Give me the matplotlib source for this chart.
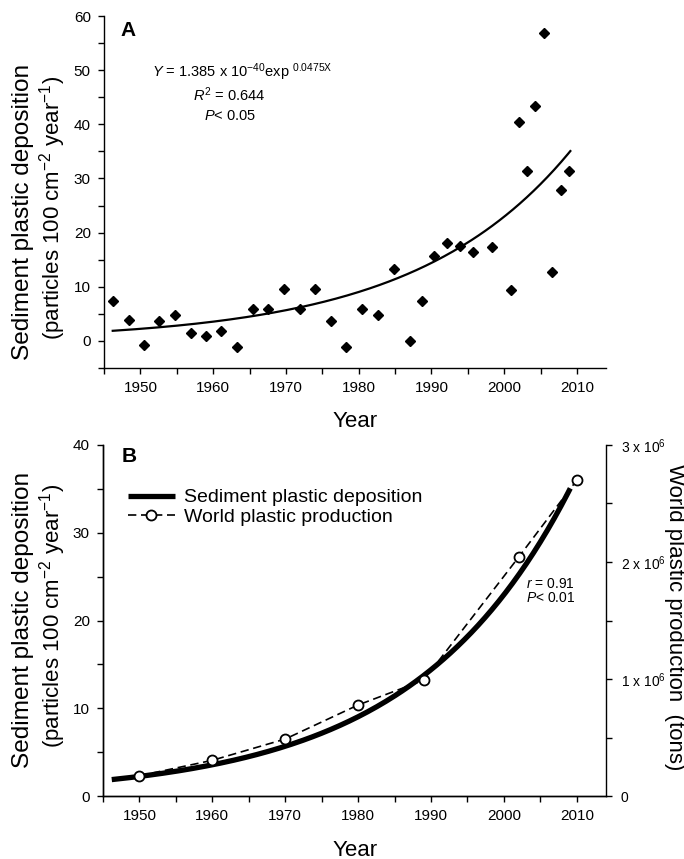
import numpy as np
import matplotlib
matplotlib.use("Agg")
import matplotlib.pyplot as plt
from matplotlib.ticker import MultipleLocator, FixedLocator, FixedFormatter

plt.rcParams['font.family'] = ['Liberation Sans', 'DejaVu Sans']
plt.rcParams['mathtext.fontset'] = 'custom'
plt.rcParams['mathtext.rm'] = 'Liberation Sans'
plt.rcParams['mathtext.it'] = 'Liberation Sans:italic'
plt.rcParams['mathtext.bf'] = 'Liberation Sans:bold'

# ---------------- data ----------------
# Panel A: sediment plastic deposition (particles 100 cm-2 year-1)
years_a = [1946.3, 1948.4, 1950.5, 1952.6, 1954.7, 1956.9, 1959.0, 1961.1, 1963.3,
           1965.5, 1967.6, 1969.8, 1971.9, 1974.0, 1976.2, 1978.3, 1980.5, 1982.6,
           1984.8, 1987.0, 1988.7, 1990.4, 1992.2, 1993.9, 1995.7, 1998.3, 2000.9,
           2002.0, 2003.2, 2004.3, 2005.5, 2006.6, 2007.8, 2008.9]
deposition_a = [7.4, 3.8, -0.7, 3.6, 4.7, 1.5, 0.9, 1.8, -1.1,
                5.9, 5.9, 9.6, 5.9, 9.6, 3.7, -1.1, 5.9, 4.8,
                13.3, 0.0, 7.4, 15.6, 18.1, 17.5, 16.5, 17.4, 9.4,
                40.4, 31.4, 43.4, 56.9, 12.8, 27.9, 31.4]

# Exponential fit curve (as drawn): value at start year and growth rate
fit_start_year = 1946.2
fit_end_year = 2009.1
fit_start_value = 1.87
fit_rate = 0.0466

# Panel B: world plastic production (tons)
years_prod = [1950, 1960, 1970, 1980, 1989, 2002, 2010]
production = [0.173e6, 0.305e6, 0.487e6, 0.778e6, 0.99e6, 2.04e6, 2.70e6]

right_tick_vals = [0, 1e6, 2e6, 3e6]
right_tick_labels = ['0', r'1 x 10$^{6}$', r'2 x 10$^{6}$', r'3 x 10$^{6}$']

# ---------------- figure ----------------
W, H = 684, 859
fig = plt.figure(figsize=(W / 100, H / 100), dpi=100)


def fx(px):
    return px / W


def fy(py):
    return 1 - py / H


axA = fig.add_axes([fx(104), fy(368), (606 - 104) / W, (368 - 16) / H])
axB = fig.add_axes([fx(103), fy(796), (606 - 103) / W, (796 - 445) / H])

fit_x = np.linspace(fit_start_year, fit_end_year, 200)
fit_y = fit_start_value * np.exp(fit_rate * (fit_x - fit_start_year))

# ---- Panel A ----
axA.plot(fit_x, fit_y, color='black', lw=1.6, zorder=2)
axA.plot(years_a, deposition_a, linestyle='none', marker='D', ms=5.0,
         color='black', zorder=3)
axA.set_xlim(1945, 2014)
axA.set_ylim(-5, 60)
axA.xaxis.set_major_locator(MultipleLocator(10))
axA.xaxis.set_minor_locator(MultipleLocator(5))
axA.yaxis.set_major_locator(MultipleLocator(10))
axA.yaxis.set_minor_locator(MultipleLocator(5))
axA.spines['top'].set_visible(False)
axA.spines['right'].set_visible(False)

# ---- Panel B ----
l1, = axB.plot(fit_x, fit_y, color='black', lw=3.8, solid_capstyle='butt', zorder=2)
axB.set_xlim(1945, 2014)
axB.set_ylim(0, 40)
axB.xaxis.set_major_locator(MultipleLocator(10))
axB.xaxis.set_minor_locator(MultipleLocator(5))
axB.yaxis.set_major_locator(MultipleLocator(10))
axB.yaxis.set_minor_locator(MultipleLocator(5))
axB.spines['top'].set_visible(False)
axB.spines['right'].set_visible(False)

axB2 = axB.twinx()
l2, = axB2.plot(years_prod, production, color='black', lw=1.2,
                linestyle=(0, (5.0, 2.8)), marker='o', ms=7.2,
                markerfacecolor='white', markeredgecolor='black', markeredgewidth=1.3)
axB2.set_ylim(0, 3e6)
axB2.yaxis.set_major_locator(FixedLocator(right_tick_vals))
axB2.yaxis.set_major_formatter(FixedFormatter(right_tick_labels))
axB2.yaxis.set_minor_locator(MultipleLocator(0.5e6))
axB2.spines['top'].set_visible(False)

for ax in (axA, axB, axB2):
    for s in ax.spines.values():
        s.set_linewidth(1.0)
    ax.tick_params(which='both', direction='out', length=4.5, width=1.0,
                   labelsize=11, pad=5)
axB2.tick_params(axis='y', labelsize=10, pad=6)

axB2.legend([l1, l2], ['Sediment plastic deposition', 'World plastic production'],
            loc='upper left', bbox_to_anchor=(0.05, 0.875), frameon=False,
            fontsize=14, handlelength=2.4, handletextpad=0.45, borderpad=0,
            borderaxespad=0, labelspacing=0.1, numpoints=1)

# ---- texts ----
fig.text(fx(128), fy(31), 'A', fontsize=15, fontweight='bold', ha='center', va='center')
fig.text(fx(129), fy(456), 'B', fontsize=15, fontweight='bold', ha='center', va='center')

fig.text(fx(242), fy(77), r'$Y$ = 1.385 x 10$^{-40}$exp $^{0.0475\mathrm{X}}$',
         fontsize=10.5, ha='center', va='baseline')
fig.text(fx(229), fy(101.5), r'$R^{2}$ = 0.644', fontsize=10.5, ha='center', va='baseline')
fig.text(fx(230), fy(120), r'$P$< 0.05', fontsize=10.5, ha='center', va='baseline')

fig.text(fx(526), fy(588), r'$r$ = 0.91', fontsize=10, ha='left', va='baseline')
fig.text(fx(526), fy(601.5), r'$P$< 0.01', fontsize=10, ha='left', va='baseline')

fig.text(fx(355), fy(421), 'Year', fontsize=16, ha='center', va='center')
fig.text(fx(355), fy(850), 'Year', fontsize=16, ha='center', va='center')

for yc in (212, 620):
    fig.text(fx(23), fy(yc), 'Sediment plastic deposition', fontsize=17.6,
             rotation=90, ha='center', va='center')
    fig.text(fx(53), fy(yc - 4), r'(particles 100 cm$^{-2}$ year$^{-1}$)', fontsize=16,
             rotation=90, ha='center', va='center')

fig.text(fx(674), fy(617), 'World plastic production  (tons)', fontsize=16,
         rotation=270, ha='center', va='center')

fig.savefig('out.png', dpi=100)
